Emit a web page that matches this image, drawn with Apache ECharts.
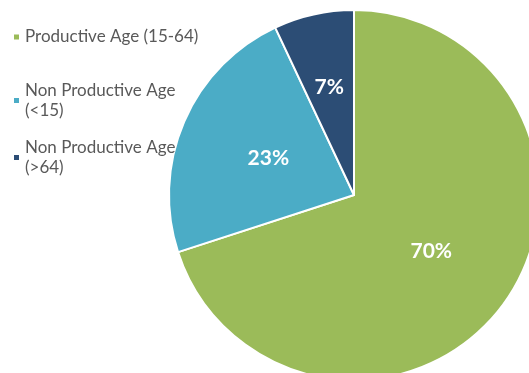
<!DOCTYPE html>
<html><head><meta charset="utf-8">
<script src="https://cdn.jsdelivr.net/npm/echarts@6/dist/echarts.min.js"></script>
<style>html,body{margin:0;padding:0;background:#fff}#c{width:529px;height:373px}</style>
</head><body><div id="c"></div>
<script>
const categories = ['Productive Age (15-64)', 'Non Productive Age (<15)', 'Non Productive Age (>64)'];
const legendLabels = ['Productive Age (15-64)', 'Non Productive Age\n(<15)', 'Non Productive Age\n(>64)'];
const values = [70, 23, 7];
const colors = ['#9BBB59', '#4BACC6', '#2C4D75'];

const chart = echarts.init(document.getElementById('c'), null, {renderer: 'canvas'});
const legendTops = [27, 82, 139];
const legends = categories.map((name, i) => ({
  data: [name],
  orient: 'vertical',
  left: 12,
  top: legendTops[i],
  padding: 0,
  icon: 'rect',
  itemWidth: 7,
  itemHeight: 7,
  selectedMode: false,
  formatter: () => legendLabels[i],
  textStyle: {
    color: '#595959',
    fontSize: 17,
    fontFamily: 'Lato',
    lineHeight: 20,
    height: 20
  }
}));
chart.setOption({
  animation: false,
  legend: legends,
  series: [{
    type: 'pie',
    center: [354, 195],
    radius: 185,
    startAngle: 90,
    clockwise: true,
    itemStyle: {borderColor: '#fff', borderWidth: 2},
    label: {
      position: 'inside',
      formatter: '{c}%',
      color: '#fff',
      fontSize: 21,
      fontWeight: 'bold',
      fontFamily: 'Lato'
    },
    labelLine: {show: false},
    data: categories.map((name, i) => ({
      name, value: values[i],
      itemStyle: {color: colors[i]},
      label: i === 2 ? {offset: [-4, -15]} : (i === 1 ? {offset: [2, 1]} : {})
    }))
  }]
});
</script></body></html>
